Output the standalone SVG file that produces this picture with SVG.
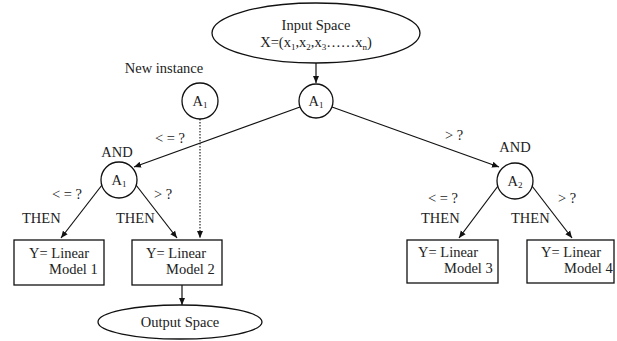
<svg xmlns="http://www.w3.org/2000/svg" width="617" height="341" viewBox="0 0 617 341">
<style>
text{font-family:"Liberation Serif","Times New Roman",serif;font-size:14.5px;fill:#222}
.s{font-size:9px}
.m{text-anchor:middle}
.shape{fill:#fff;stroke:#111;stroke-width:1.3}
.ln{stroke:#111;stroke-width:1.2;fill:none}
.dot{stroke:#111;stroke-width:1.1;fill:none;stroke-dasharray:1.5 1.5}
</style>
<defs>
<marker id="ah" markerWidth="8" markerHeight="8" refX="7" refY="4" orient="auto" markerUnits="userSpaceOnUse">
<path d="M0,1 L7,4 L0,7 Z" fill="#111"/>
</marker>
</defs>
<rect width="617" height="341" fill="#fff"/>
<g id="connectors">
<line class="ln" x1="316" y1="63" x2="316" y2="83" marker-end="url(#ah)"/>
<line class="ln" x1="300" y1="107" x2="134" y2="167" marker-end="url(#ah)"/>
<line class="ln" x1="332" y1="107" x2="499" y2="167" marker-end="url(#ah)"/>
<line class="ln" x1="102" y1="185" x2="61" y2="238" marker-end="url(#ah)"/>
<line class="ln" x1="136" y1="185" x2="177" y2="238" marker-end="url(#ah)"/>
<line class="dot" x1="200" y1="119" x2="200" y2="238" marker-end="url(#ah)"/>
<line class="ln" x1="498" y1="186" x2="459" y2="238" marker-end="url(#ah)"/>
<line class="ln" x1="532" y1="186" x2="572" y2="238" marker-end="url(#ah)"/>
<line class="ln" x1="182" y1="285" x2="182" y2="305" marker-end="url(#ah)"/>
</g>
<g id="labels">
<text x="164" y="73" class="m">New instance</text>
<text x="155" y="143">&lt; = ?</text>
<text x="445" y="140">&gt; ?</text>
<text x="117" y="157" class="m">AND</text>
<text x="515" y="152" class="m">AND</text>
<text x="52" y="199">&lt; = ?</text>
<text x="154" y="199">&gt; ?</text>
<text x="428" y="203">&lt; = ?</text>
<text x="558" y="203">&gt; ?</text>
<text x="22" y="223">THEN</text>
<text x="116" y="223">THEN</text>
<text x="421" y="223">THEN</text>
<text x="511" y="223">THEN</text>
</g>
<g id="input">
<ellipse class="shape" cx="316" cy="33" rx="104" ry="30"/>
<text x="316" y="30" class="m">Input Space</text>
<text x="316" y="47" class="m">X=(x<tspan class="s" dy="3">1</tspan><tspan dy="-3">,x</tspan><tspan class="s" dy="3">2</tspan><tspan dy="-3">,x</tspan><tspan class="s" dy="3">3</tspan><tspan dy="-3">……x</tspan><tspan class="s" dy="3">n</tspan><tspan dy="-3">)</tspan></text>
</g>
<g id="root-a1">
<circle class="shape" cx="316" cy="101" r="17"/>
<text x="316" y="106" class="m">A<tspan class="s" dy="2">1</tspan></text>
</g>
<g id="new-a1">
<circle class="shape" cx="200" cy="101" r="18"/>
<text x="200" y="106" class="m">A<tspan class="s" dy="2">1</tspan></text>
</g>
<g id="left-a1">
<circle class="shape" cx="119" cy="180" r="18"/>
<text x="119" y="185" class="m">A<tspan class="s" dy="2">1</tspan></text>
</g>
<g id="right-a2">
<circle class="shape" cx="515" cy="181" r="18"/>
<text x="515" y="186" class="m">A<tspan class="s" dy="2">2</tspan></text>
</g>
<g id="model1">
<rect class="shape" x="14" y="240" width="90" height="45"/>
<text x="29" y="258">Y= Linear</text>
<text x="49" y="274">Model 1</text>
</g>
<g id="model2">
<rect class="shape" x="132" y="240" width="90" height="45"/>
<text x="146" y="258">Y= Linear</text>
<text x="166" y="274">Model 2</text>
</g>
<g id="model3">
<rect class="shape" x="407" y="240" width="91" height="43"/>
<text x="418" y="257">Y= Linear</text>
<text x="444" y="273">Model 3</text>
</g>
<g id="model4">
<rect class="shape" x="527" y="240" width="87" height="43"/>
<text x="541" y="257">Y= Linear</text>
<text x="564" y="273">Model 4</text>
</g>
<g id="output">
<ellipse class="shape" cx="180" cy="322" rx="82" ry="17"/>
<text x="180" y="327" class="m">Output Space</text>
</g>
</svg>
